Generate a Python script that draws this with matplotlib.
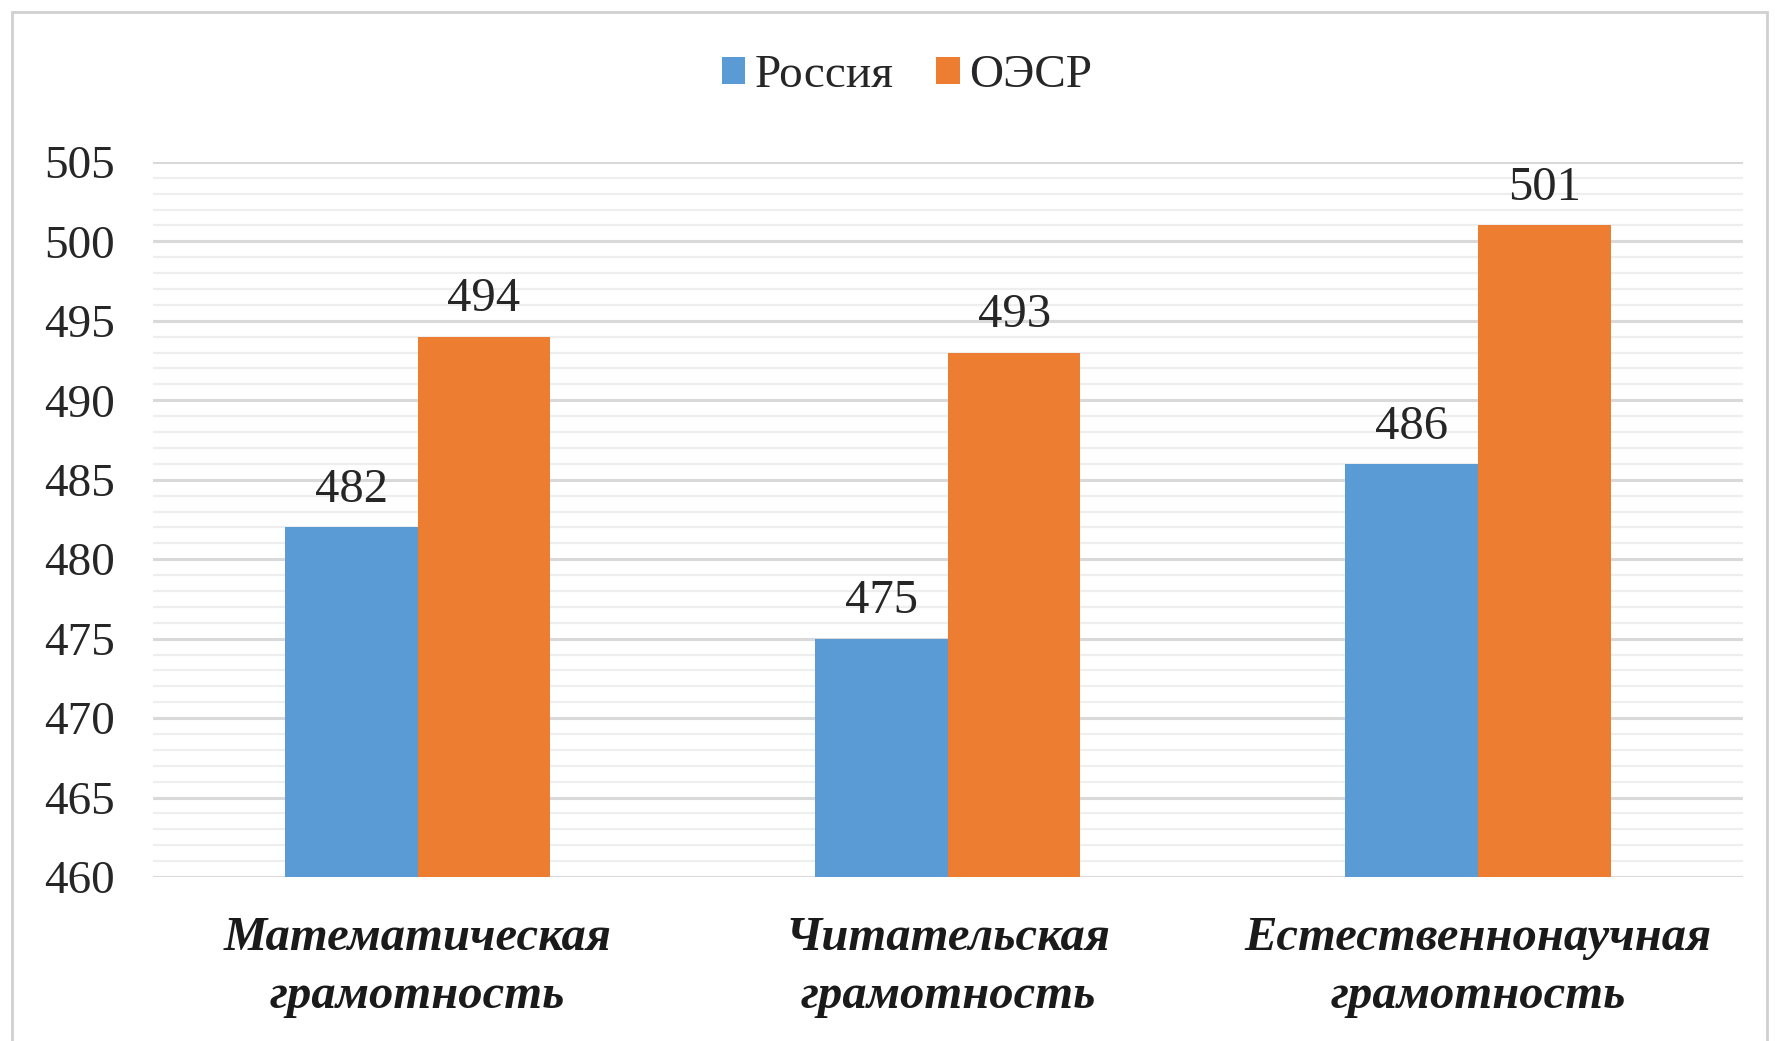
import matplotlib.pyplot as plt
from matplotlib.patches import Rectangle
import numpy as np

categories = ["Математическая\nграмотность", "Читательская\nграмотность",
              "Естественнонаучная\nграмотность"]
russia = [482, 475, 486]
oecd = [494, 493, 501]
series_names = ["Россия", "ОЭСР"]


def main():
    plt.rcParams['font.family'] = ['Liberation Serif', 'DejaVu Serif']
    fig = plt.figure(figsize=(17.75, 10.41), dpi=100)
    ax = fig.add_axes([0.086, 0.1575, 0.896, 0.687])

    x = np.arange(len(categories))
    w = 0.25
    b1 = ax.bar(x - w / 2, np.array(russia) - 460, w, bottom=460,
                color="#5B9BD5", label=series_names[0], zorder=3)
    b2 = ax.bar(x + w / 2, np.array(oecd) - 460, w, bottom=460,
                color="#ED7D31", label=series_names[1], zorder=3)

    for bars, vals in ((b1, russia), (b2, oecd)):
        for r, v in zip(bars, vals):
            ax.annotate(str(v), (r.get_x() + r.get_width() / 2, v),
                        xytext=(0, 11), textcoords="offset points",
                        ha="center", va="bottom", fontsize=35, color="#262626")

    ax.set_xlim(-0.5, 2.5)
    ax.set_ylim(460, 505)
    ax.set_yticks(np.arange(460, 506, 5))
    ax.set_yticks(np.arange(460, 506, 1), minor=True)
    ax.tick_params(axis="y", which="both", length=0, labelsize=34,
                   labelcolor="#262626", pad=27)
    ax.tick_params(axis="x", length=0, pad=28)
    ax.set_xticks(x)
    ax.set_xticklabels(categories, fontsize=35, fontstyle="italic",
                       fontweight="bold", color="#1a1a1a", linespacing=1.42)
    ax.grid(axis="y", which="major", color="#d9d9d9", linewidth=2.2, zorder=0)
    ax.grid(axis="y", which="minor", color="#eeeeee", linewidth=1.6, zorder=0)
    for s in ax.spines.values():
        s.set_visible(False)

    fig.legend(loc="center", bbox_to_anchor=(0.511, 0.927), ncol=2,
               frameon=False, fontsize=34, handlelength=0.5, handleheight=0.5,
               handletextpad=0.2, columnspacing=0.9, labelcolor="#262626")

    fig.patches.append(Rectangle((12 / 1775, -0.01), 1 - 20 / 1775, 1 - 12 / 1041 + 0.01,
                                 transform=fig.transFigure, fill=False,
                                 edgecolor="#d0d0d0", linewidth=2))
    fig.savefig("out.png", dpi=100)


if __name__ == "__main__":
    main()
